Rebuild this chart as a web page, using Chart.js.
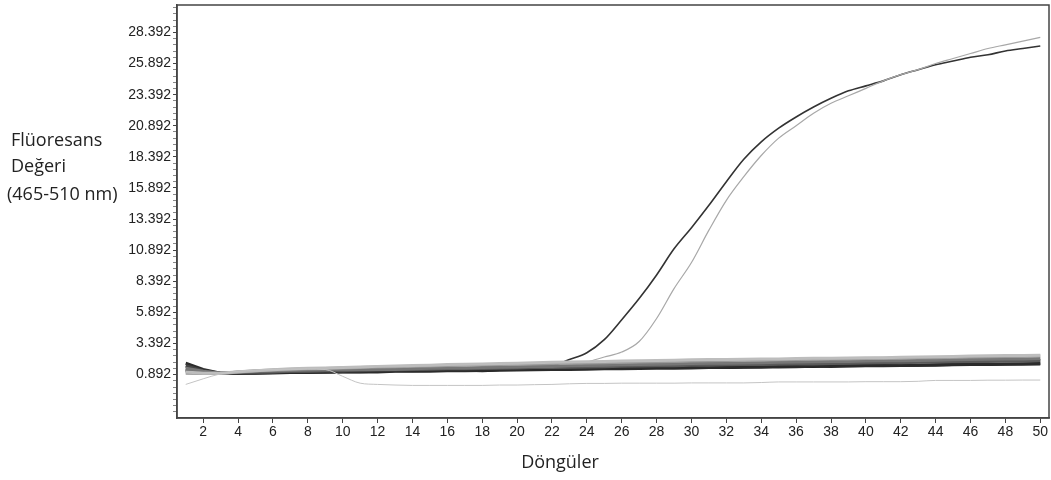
<!DOCTYPE html>
<html>
<head>
<meta charset="utf-8">
<script src="https://cdn.jsdelivr.net/npm/chart.js@4/dist/chart.umd.min.js"></script>
<style>
  body { margin: 0; background: #fff; }
  #wrap { position: relative; width: 1051px; height: 480px; }
</style>
</head>
<body>
<div id="wrap"><canvas id="pcrChart" width="1051" height="480"></canvas></div>
<script>
// cycles and fluorescence readings
const cycles = Array.from({ length: 50 }, (_, i) => i + 1);

const sampleA = [1.5,1.15,1.0,1.02,1.05,1.08,1.1,1.12,1.15,1.17,1.2,1.22,1.25,1.27,1.3,1.32,1.35,1.37,1.4,1.42,1.45,1.6,2.1,2.65,3.7,5.3,7.0,8.9,11.0,12.7,14.5,16.4,18.2,19.6,20.7,21.6,22.4,23.1,23.7,24.1,24.5,25.0,25.4,25.8,26.1,26.4,26.6,26.9,27.1,27.3];
const sampleB = [1.2,1.05,1.0,1.05,1.1,1.12,1.15,1.18,1.2,1.2,1.22,1.25,1.28,1.3,1.32,1.35,1.38,1.4,1.42,1.45,1.48,1.5,1.6,1.9,2.3,2.7,3.55,5.4,7.8,9.9,12.5,14.9,16.8,18.5,19.9,20.9,21.9,22.7,23.3,23.9,24.5,25.0,25.4,25.9,26.3,26.7,27.1,27.4,27.7,28.0];
const lowLine = [0.1,0.55,0.95,1.15,1.25,1.3,1.32,1.35,1.3,0.75,0.2,0.1,0.05,0.02,0.02,0.02,0.02,0.02,0.05,0.05,0.08,0.1,0.15,0.18,0.18,0.2,0.2,0.2,0.2,0.22,0.22,0.22,0.22,0.25,0.3,0.3,0.3,0.3,0.3,0.32,0.32,0.32,0.35,0.42,0.42,0.42,0.44,0.44,0.45,0.45];

const base1 = [1.2,1.05,0.98,1.0,1.02,1.05,1.08,1.1,1.1,1.12,1.12,1.15,1.2,1.2,1.22,1.22,1.25,1.2,1.25,1.3,1.32,1.35,1.38,1.4,1.42,1.42,1.45,1.45,1.48,1.5,1.5,1.45,1.5,1.5,1.55,1.55,1.55,1.6,1.6,1.62,1.62,1.65,1.65,1.68,1.7,1.72,1.72,1.75,1.75,1.78];
const base2 = [1.6,1.2,1.0,1.05,1.1,1.12,1.15,1.18,1.2,1.22,1.2,1.25,1.3,1.3,1.35,1.38,1.38,1.4,1.45,1.48,1.5,1.5,1.55,1.55,1.6,1.62,1.62,1.7,1.72,1.75,1.72,1.75,1.78,1.8,1.8,1.82,1.82,1.85,1.88,1.88,1.9,1.9,1.92,1.95,1.95,2.0,2.0,2.02,2.05,2.05];
const base3 = [1.4,1.15,1.0,1.08,1.15,1.2,1.22,1.25,1.28,1.3,1.3,1.32,1.3,1.35,1.4,1.42,1.42,1.45,1.48,1.5,1.55,1.55,1.6,1.62,1.65,1.68,1.7,1.72,1.75,1.78,1.8,1.8,1.82,1.85,1.88,1.9,1.92,1.95,1.95,1.98,2.0,2.0,2.02,2.05,2.08,2.1,2.12,2.15,2.15,2.18];
const base4 = [1.0,0.98,0.98,1.1,1.2,1.25,1.3,1.35,1.38,1.42,1.45,1.5,1.52,1.55,1.58,1.62,1.65,1.68,1.7,1.72,1.75,1.78,1.8,1.82,1.85,1.88,1.9,1.92,1.95,1.98,2.0,2.02,2.05,2.05,2.08,2.1,2.12,2.15,2.15,2.18,2.2,2.22,2.25,2.25,2.28,2.3,2.32,2.35,2.35,2.38];
const base5 = [1.8,1.3,1.0,1.0,1.0,1.02,1.05,1.05,1.08,1.1,1.1,1.1,1.15,1.15,1.15,1.2,1.2,1.22,1.25,1.25,1.28,1.3,1.3,1.32,1.35,1.35,1.38,1.4,1.4,1.42,1.45,1.45,1.48,1.5,1.5,1.52,1.55,1.55,1.58,1.6,1.6,1.62,1.65,1.65,1.68,1.7,1.7,1.72,1.75,1.75];
const base6 = [1.3,1.1,1.0,1.05,1.08,1.1,1.15,1.15,1.2,1.2,1.25,1.28,1.28,1.3,1.32,1.35,1.35,1.38,1.4,1.42,1.45,1.45,1.48,1.5,1.52,1.55,1.58,1.6,1.6,1.65,1.65,1.68,1.7,1.7,1.72,1.75,1.75,1.78,1.8,1.82,1.85,1.85,1.88,1.9,1.92,1.95,1.95,1.98,2.0,2.0];
const base7 = [1.1,1.0,1.0,1.12,1.2,1.28,1.35,1.4,1.42,1.45,1.5,1.55,1.58,1.62,1.65,1.7,1.72,1.75,1.78,1.8,1.85,1.88,1.9,1.92,1.95,1.98,2.0,2.02,2.05,2.08,2.1,2.1,2.12,2.15,2.15,2.18,2.2,2.2,2.22,2.25,2.25,2.28,2.3,2.32,2.35,2.38,2.4,2.42,2.42,2.45];

const xTicks = [2,4,6,8,10,12,14,16,18,20,22,24,26,28,30,32,34,36,38,40,42,44,46,48,50];
const yLabels = [0.892,3.392,5.892,8.392,10.892,13.392,15.892,18.392,20.892,23.392,25.892,28.392];
const yTitle = ["Flüoresans", "Değeri", "(465-510 nm)"];
const xTitle = "Döngüler";

function pts(arr) {
    return arr.map((v, i) => ({ x: cycles[i], y: v }));
}

function line(arr, color, width, smooth) {
    return {
        data: pts(arr),
        borderColor: color,
        borderWidth: width,
        pointRadius: 0,
        tension: smooth ? 0.4 : 0,
        cubicInterpolationMode: smooth ? "monotone" : "default",
        fill: false
    };
}

// frame round the plot area + the axis titles
const framePlugin = {
    id: "frame",
    afterDraw(chart) {
        const { ctx, chartArea: a } = chart;
        ctx.save();
        ctx.strokeStyle = "#444";
        ctx.lineWidth = 1.5;
        ctx.strokeRect(a.left, a.top, a.right - a.left, a.bottom - a.top);
        ctx.fillStyle = "#222";
        ctx.font = "18px 'Open Sans'";
        ctx.textBaseline = "middle";
        ctx.fillText(yTitle[0], 11, 141);
        ctx.fillText(yTitle[1], 11, 167);
        ctx.fillText(yTitle[2], 7, 195);
        ctx.textAlign = "center";
        ctx.fillText(xTitle, 560, 463);
        ctx.restore();
    }
};

new Chart(document.getElementById("pcrChart"), {
    type: "line",
    data: {
        datasets: [
            line(lowLine, "#c4c4c4", 1, true),
            line(base7, "#bdbdbd", 3),
            line(base4, "#999", 3),
            line(base3, "#777", 3),
            line(base6, "#5a5a5a", 3),
            line(base2, "#444", 3),
            line(base5, "#2b2b2b", 3),
            line(base1, "#151515", 3),
            line(sampleB, "#a8a8a8", 1.2, true),
            line(sampleA, "#333", 1.6, true)
        ]
    },
    options: {
        responsive: false,
        animation: false,
        layout: { padding: { top: 5, right: 2, left: 0, bottom: 0 } },
        plugins: { legend: { display: false }, tooltip: { enabled: false } },
        scales: {
            x: {
                type: "linear",
                min: 0.5,
                max: 50.5,
                afterBuildTicks: s => { s.ticks = xTicks.map(v => ({ value: v })); },
                afterFit: s => { s.height = 62; },
                grid: { drawOnChartArea: false, tickLength: 5, tickColor: "#444" },
                border: { color: "#444", width: 1.5 },
                ticks: { color: "#222", font: { family: "'Liberation Sans'", size: 14 }, padding: 1, maxRotation: 0 }
            },
            y: {
                min: -2.6,
                max: 30.6,
                afterBuildTicks: s => {
                    const t = [];
                    for (let k = -6; k <= 59; k++) t.push({ value: 0.892 + k * 0.5 });
                    s.ticks = t;
                },
                afterFit: s => { s.width = 177; s.paddingTop = 0; s.paddingBottom = 0; },
                grid: {
                    drawOnChartArea: false,
                    tickLength: 4,
                    tickColor: c => yLabels.some(v => Math.abs(v - c.tick.value) < 1e-6) ? "#444" : "#888"
                },
                border: { color: "#444", width: 1.5 },
                ticks: {
                    autoSkip: false,
                    color: "#222",
                    font: { family: "'Liberation Sans'", size: 14 },
                    padding: 2,
                    callback: v => yLabels.some(l => Math.abs(l - v) < 1e-6) ? v.toFixed(3) : ""
                }
            }
        }
    },
    plugins: [framePlugin]
});
</script>
</body>
</html>
